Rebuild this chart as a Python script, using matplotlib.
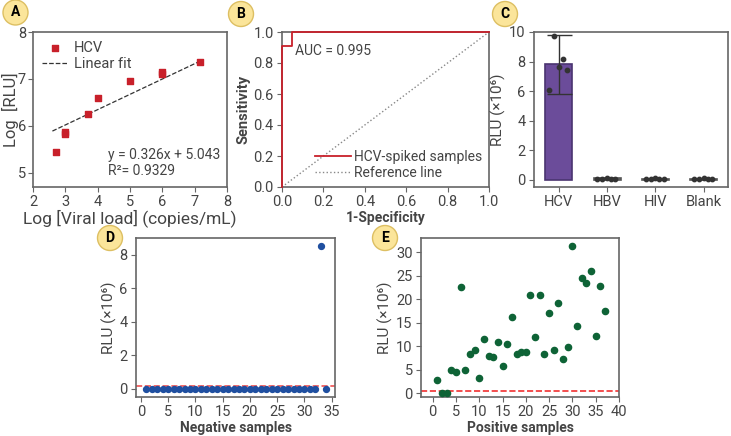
import matplotlib
matplotlib.use('Agg')
import matplotlib.pyplot as plt
from matplotlib.patches import Ellipse

plt.rcParams['font.family'] = ['Roboto', 'DejaVu Sans']
plt.rcParams['font.size'] = 10
plt.rcParams['axes.edgecolor'] = '#666666'
plt.rcParams['axes.linewidth'] = 1.2
plt.rcParams['xtick.color'] = '#666666'
plt.rcParams['ytick.color'] = '#666666'
plt.rcParams['xtick.labelcolor'] = '#444444'
plt.rcParams['ytick.labelcolor'] = '#444444'
plt.rcParams['xtick.labelsize'] = 10.5
plt.rcParams['ytick.labelsize'] = 10.5
plt.rcParams['xtick.major.pad'] = 2.5
plt.rcParams['ytick.major.pad'] = 2.5
plt.rcParams['axes.labelcolor'] = '#444444'

# A: calibration
viral_load = [2.7, 3.0, 3.0, 3.7, 4.0, 5.0, 6.0, 6.0, 7.17]
log_rlu = [5.45, 5.82, 5.87, 6.25, 6.6, 6.95, 7.1, 7.14, 7.37]
fit_x = [2.6, 7.17]
slope, intercept = 0.326, 5.043

# B: ROC
roc_fpr = [0.0, 0.0, 0.05, 0.05, 1.0]
roc_tpr = [0.0, 0.91, 0.91, 1.0, 1.0]

# C: specificity
groups = ['HCV', 'HBV', 'HIV', 'Blank']
group_means = [7.8, 0.08, 0.06, 0.06]
group_sd = [2.0, 0, 0, 0]
hcv_reps = [6.05, 9.75, 7.6, 8.15, 7.45]
other_reps = [0.07, 0.06, 0.08, 0.07, 0.06]

# D: negative samples
neg_values = [-0.05] * 32 + [8.55, -0.05]
neg_cutoff = 0.15

# E: positive samples
pos_values = [2.8, 0.1, 0.1, 4.8, 4.4, 22.6, 4.9, 8.4, 9.1, 3.2,
              11.5, 7.8, 7.7, 10.9, 5.8, 10.5, 16.1, 8.4, 8.8, 8.7,
              20.9, 11.9, 20.8, 8.3, 17.0, 9.1, 19.2, 7.3, 9.9, 31.3,
              14.3, 24.4, 23.4, 26.0, 12.1, 22.7, 17.5]
pos_cutoff = 0.35

red = '#C8202A'
W, H = 731, 436
fig = plt.figure(figsize=(W / 100, H / 100), dpi=100)

def badge(x, y, letter):
    fig.patches.append(Ellipse((x / W, 1 - y / H), 25 / W, 25 / H, transform=fig.transFigure,
                               facecolor='#FBE59A', edgecolor='#DDBF62', lw=1))
    fig.text(x / W, 1 - y / H, letter, ha='center', va='center',
             fontsize=10, fontweight='bold', color='black')

def ax_at(l, t, r, b):
    return fig.add_axes([l / W, 1 - b / H, (r - l) / W, (b - t) / H])

# panel A
ax = ax_at(33, 32, 227, 187)
ax.scatter(viral_load, log_rlu, marker='s', s=20, color=red, label='HCV', zorder=3)
ax.plot(fit_x, [slope * x + intercept for x in fit_x], ls='--', color='#333333', lw=0.9,
        label='Linear fit')
ax.set_xlim(2, 8)
ax.set_ylim(4.7, 8)
ax.set_xticks(range(2, 9))
ax.set_yticks([5, 6, 7, 8])
ax.tick_params(axis='y', pad=1.5)
ax.set_xlabel('Log [Viral load] (copies/mL)', fontsize=12.5, labelpad=0)
ax.set_ylabel('Log  [RLU]', fontsize=12, labelpad=-1)
ax.text(0.385, 0.206, 'y = 0.326x + 5.043', transform=ax.transAxes, va='center', color='#444444')
ax.text(0.385, 0.103, 'R²= 0.9329', transform=ax.transAxes, va='center', color='#444444')
ax.legend(loc='upper left', frameon=False, handlelength=1.8, borderaxespad=0.2,
          labelspacing=0.15, handletextpad=0.4, labelcolor='#444444', fontsize=10.5)

# panel B
ax = ax_at(282, 32, 489, 187)
ax.plot(roc_fpr, roc_tpr, color=red, lw=1.3, label='HCV-spiked samples', clip_on=False, zorder=3)
ax.plot([0, 1], [0, 1], ls=':', color='#888888', lw=1, label='Reference line')
ax.set_xlim(0, 1)
ax.set_ylim(0, 1)
ax.set_xticks([0, 0.2, 0.4, 0.6, 0.8, 1.0])
ax.set_yticks([0, 0.2, 0.4, 0.6, 0.8, 1.0])
ax.set_xticklabels(['0.0', '0.2', '0.4', '0.6', '0.8', '1.0'])
ax.set_yticklabels(['0.0', '0.2', '0.4', '0.6', '0.8', '1.0'])
ax.text(0.065, 0.85, 'AUC = 0.995', transform=ax.transAxes, color='#444444', fontsize=10)
ax.set_xlabel('1-Specificity', fontweight='bold', labelpad=1)
ax.set_ylabel('Sensitivity', fontweight='bold', fontsize=10.5, labelpad=2)
ax.legend(loc='lower right', frameon=False, handlelength=2.6, borderaxespad=0.1,
          labelspacing=0.15, handletextpad=0.2, labelcolor='#444444')

# panel C
ax = ax_at(534, 32, 728, 187)
colors = ['#6B4C9A', '#7A7A7A', '#7A7A7A', '#7A7A7A']
edges = ['#4A3470', '#555555', '#555555', '#555555']
xs = range(len(groups))
ax.bar(xs, group_means, width=0.56, color=colors, edgecolor=edges, lw=1.2, zorder=2)
ax.errorbar([0], [group_means[0]], yerr=[group_sd[0]], color='#333333', capsize=9, lw=1, zorder=3)
jit = [-0.2, -0.1, 0.0, 0.08, 0.17]
ax.scatter(jit, hcv_reps, s=10, color='#333333', zorder=4)
for i in range(1, 4):
    ax.scatter([i + j for j in jit], other_reps, s=10, color='#333333', zorder=4)
ax.set_xticks(list(xs))
ax.set_xticklabels(groups)
ax.set_xlim(-0.51, 3.5)
ax.set_ylim(-0.5, 10)
ax.set_yticks([0, 2, 4, 6, 8, 10])
ax.set_ylabel('RLU (×10⁶)', fontsize=11, labelpad=2)

# panel D
ax = ax_at(136, 238, 335, 397)
ax.axhline(neg_cutoff, color='#F05050', ls='--', lw=1.2, zorder=1)
ax.scatter(range(1, len(neg_values) + 1), neg_values, s=18, color='#1F4FA0', zorder=3)
ax.set_xlim(-0.9, 35.6)
ax.set_ylim(-0.5, 9)
ax.set_xticks(range(0, 36, 5))
ax.set_yticks([0, 2, 4, 6, 8])
ax.set_xlabel('Negative samples', fontweight='bold', labelpad=1)
ax.set_ylabel('RLU (×10⁶)', fontsize=11, labelpad=2)

# panel E
ax = ax_at(421, 238, 619, 397)
ax.axhline(pos_cutoff, color='#F03030', ls='--', lw=1.2, zorder=1)
ax.scatter(range(1, len(pos_values) + 1), pos_values, s=20, color='#0E6336', zorder=3)
ax.set_xlim(-2.5, 40)
ax.set_ylim(-0.85, 33)
ax.set_xticks(range(0, 41, 5))
ax.set_yticks(range(0, 31, 5))
ax.set_xlabel('Positive samples', fontweight='bold', labelpad=1)
ax.set_ylabel('RLU (×10⁶)', fontsize=11, labelpad=2)

badge(15.5, 12.5, 'A')
badge(241, 14, 'B')
badge(505, 14, 'C')
badge(110, 238, 'D')
badge(385, 238, 'E')

fig.savefig('out.png', dpi=100)
